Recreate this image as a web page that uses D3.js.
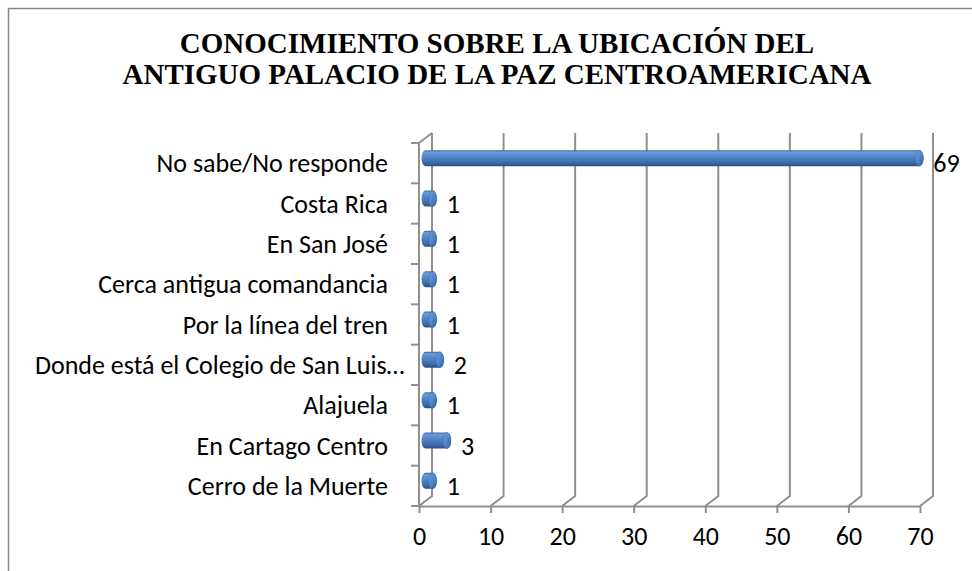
<!DOCTYPE html>
<html>
<head>
<meta charset="utf-8">
<script src="https://cdn.jsdelivr.net/npm/d3@7"></script>
<style>
  body { margin: 0; background: #fff; }
  #wrap { position: relative; width: 972px; height: 571px; overflow: hidden; }
  #chart { display: block; position: absolute; left: 0; top: 0; }
  #title {
    position: absolute; left: 0; top: 28px; width: 994px;
    text-align: center;
    font-family: "Liberation Serif", "Times New Roman", serif;
    font-weight: bold; font-size: 29px; line-height: 31px;
    white-space: nowrap; color: #000;
  }
</style>
</head>
<body>
<div id="wrap">
  <svg id="chart" width="972" height="571"></svg>
  <div id="title"></div>
</div>
<script>
const titleLines = [
  "CONOCIMIENTO SOBRE LA UBICACIÓN DEL",
  "ANTIGUO PALACIO DE LA PAZ CENTROAMERICANA"
];
const categories = [
  "No sabe/No responde",
  "Costa Rica",
  "En San José",
  "Cerca antigua comandancia",
  "Por la línea del tren",
  "Donde está el Colegio de San Luis…",
  "Alajuela",
  "En Cartago Centro",
  "Cerro de la Muerte"
];
const values = [69, 1, 1, 1, 1, 2, 1, 3, 1];
const xTicks = [0, 10, 20, 30, 40, 50, 60, 70];

const plot = { left: 419, right: 920, top: 143, bottom: 506 };
const depth = { dx: 13, dy: -10 };
const gridColor = "#8f8f8f";
const labelFont = "Carlito";
const labelSize = 26;

const svg = d3.select("#chart");

// outer frame (runs past the picture on the right and bottom)
svg.append("rect")
  .attr("x", 8.5).attr("y", 8.5)
  .attr("width", 1000).attr("height", 600)
  .attr("fill", "#fff")
  .attr("stroke", "#868686")
  .attr("stroke-width", 1.5);

// title as html lines over the svg
d3.select("#title")
  .selectAll("div")
  .data(titleLines)
  .join("div")
  .text(d => d);

const x = d3.scaleLinear().domain([0, 70]).range([plot.left, plot.right]);
const y = d3.scaleBand().domain(categories).range([plot.top, plot.bottom]);

// gradients for the cylinders
const defs = svg.append("defs");
const body = defs.append("linearGradient")
  .attr("id", "barBody").attr("x1", 0).attr("y1", 0).attr("x2", 0).attr("y2", 1);
[["0%", "#3a659f"], ["12%", "#6b9bd6"], ["40%", "#5187c8"], ["75%", "#3f6eac"], ["100%", "#2b4f80"]]
  .forEach(s => body.append("stop").attr("offset", s[0]).attr("stop-color", s[1]));
const cap = defs.append("linearGradient")
  .attr("id", "barCap").attr("x1", 0).attr("y1", 0).attr("x2", 1).attr("y2", 1);
[["0%", "#6f9fda"], ["55%", "#4f83c4"], ["100%", "#30598f"]]
  .forEach(s => cap.append("stop").attr("offset", s[0]).attr("stop-color", s[1]));

const grid = svg.append("g")
  .attr("fill", "none")
  .attr("stroke", gridColor)
  .attr("stroke-width", 2);

// back wall gridlines with the short floor diagonal
grid.selectAll("path.gridline")
  .data(xTicks)
  .join("path")
  .attr("class", "gridline")
  .attr("d", d => {
    const bx = x(d) + depth.dx;
    return `M${bx},${plot.top + depth.dy}L${bx},${plot.bottom + depth.dy}L${x(d)},${plot.bottom}`;
  });

// left side wall: front edge and top diagonal
grid.append("path")
  .attr("d", `M${plot.left},${plot.bottom}L${plot.left},${plot.top}L${plot.left + depth.dx},${plot.top + depth.dy}`);

// category ticks on the left wall
const bounds = categories.map(c => y(c)).concat([plot.bottom]);
grid.selectAll("line.ctick")
  .data(bounds)
  .join("line")
  .attr("class", "ctick")
  .attr("x1", plot.left - 8).attr("x2", plot.left)
  .attr("y1", d => d).attr("y2", d => d);

// bottom axis
const xAxis = d3.axisBottom(x).tickValues(xTicks).tickSize(7).tickSizeOuter(0).tickPadding(14);
const gx = svg.append("g")
  .attr("transform", `translate(0,${plot.bottom})`)
  .call(xAxis)
  .attr("font-family", labelFont)
  .attr("font-size", labelSize);
gx.select(".domain").attr("stroke", gridColor).attr("stroke-width", 2);
gx.selectAll(".tick line").attr("stroke", gridColor).attr("stroke-width", 2);
gx.selectAll(".tick text").attr("fill", "#000");

// cylinders
const ry = 8, rx = 4;
const bars = svg.append("g")
  .attr("font-family", labelFont)
  .attr("font-size", labelSize);
categories.forEach((c, i) => {
  const cy = y(c) + y.bandwidth() / 2 + depth.dy / 2;
  const x0 = x(0) + depth.dx / 2;
  const x1 = x(values[i]) + depth.dx / 2;
  bars.append("path")
    .attr("d", `M${x0},${cy - ry}L${x1},${cy - ry}A${rx},${ry} 0 0 1 ${x1},${cy + ry}L${x0},${cy + ry}A${rx},${ry} 0 0 1 ${x0},${cy - ry}Z`)
    .attr("fill", "url(#barBody)");
  bars.append("ellipse")
    .attr("cx", x1).attr("cy", cy)
    .attr("rx", rx).attr("ry", ry)
    .attr("fill", "url(#barCap)")
    .attr("stroke", "#3c67a0").attr("stroke-width", 0.5);
  bars.append("text")
    .attr("x", x1 + rx + 10)
    .attr("y", y(c) + y.bandwidth() / 2 + 9)
    .text(values[i]);
});

// category labels, right aligned; an overlong one is pushed right
const labelRight = 388, minStart = 35;
const labels = svg.append("g")
  .attr("font-family", labelFont)
  .attr("font-size", labelSize)
  .attr("text-anchor", "end");
categories.forEach(c => {
  const t = labels.append("text")
    .attr("y", y(c) + y.bandwidth() / 2 + 9)
    .text(c);
  const w = t.node().getComputedTextLength();
  t.attr("x", Math.max(labelRight, minStart + w));
});
</script>
</body>
</html>
